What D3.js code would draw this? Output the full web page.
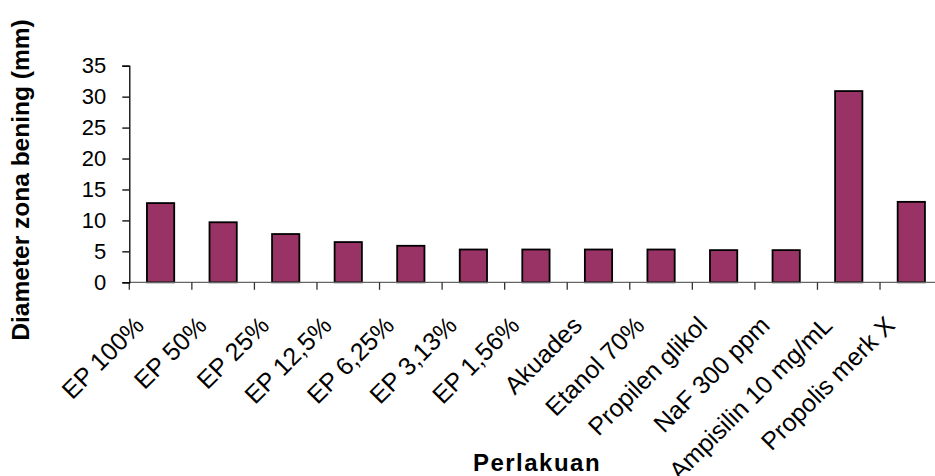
<!DOCTYPE html>
<html>
<head>
<meta charset="utf-8">
<script src="https://cdn.jsdelivr.net/npm/d3@7/dist/d3.min.js"></script>
<style>
  html, body { margin: 0; padding: 0; background: #fff; }
  svg { display: block; font-family: "Liberation Sans", Arial, sans-serif; }
</style>
</head>
<body>
<svg id="chart" width="935" height="476"></svg>
<script>
// Inhibition zone diameter per treatment
const categories = [
  "EP 100%", "EP 50%", "EP 25%", "EP 12,5%", "EP 6,25%", "EP 3,13%", "EP 1,56%",
  "Akuades", "Etanol 70%", "Propilen glikol", "NaF 300 ppm", "Ampisilin 10 mg/mL", "Propolis merk X"
];
const values = [12.8, 9.7, 7.8, 6.5, 5.9, 5.3, 5.3, 5.3, 5.3, 5.2, 5.2, 30.9, 13.0];
const yTicks = [0, 5, 10, 15, 20, 25, 30, 35];
const yTitle = "Diameter zona bening (mm)";
const xTitle = "Perlakuan";

const svg = d3.select("#chart");

const plotLeft = 129.3, plotTop = 65.7, plotBottom = 282.3;
const step = 62.56;
const pad = 0.564;

const x = d3.scaleBand()
  .domain(categories)
  .range([plotLeft, plotLeft + step * categories.length])
  .paddingInner(pad)
  .paddingOuter(pad / 2);

const y = d3.scaleLinear().domain([0, 35]).range([plotBottom, plotTop]);

// bars
svg.append("g")
  .selectAll("rect")
  .data(values)
  .join("rect")
  .attr("x", (d, i) => x(categories[i]))
  .attr("y", d => y(d))
  .attr("width", x.bandwidth())
  .attr("height", d => y(0) - y(d))
  .attr("fill", "#993366")
  .attr("stroke", "#000")
  .attr("stroke-width", 1.8);

// x axis: baseline plus category boundary ticks
const xAxis = svg.append("g");
xAxis.append("line")
  .attr("x1", plotLeft).attr("x2", plotLeft + step * categories.length)
  .attr("y1", y(0)).attr("y2", y(0))
  .attr("stroke", "#666").attr("stroke-width", 1.3);
xAxis.selectAll("line.tick")
  .data(d3.range(categories.length + 1))
  .join("line")
  .attr("class", "tick")
  .attr("x1", i => x.range()[0] + i * x.step())
  .attr("x2", i => x.range()[0] + i * x.step())
  .attr("y1", y(0)).attr("y2", y(0) + 7.5)
  .attr("stroke", "#333").attr("stroke-width", 1.3);

xAxis.selectAll("text")
  .data(categories)
  .join("text")
  .attr("transform", d => `translate(${x(d) + x.bandwidth() / 2 - 15},${327}) rotate(-45)`)
  .attr("text-anchor", "end")
  .attr("font-size", 25)
  .attr("fill", "#000")
  .text(d => d);

// y axis
const yAxis = svg.append("g")
  .attr("transform", `translate(${plotLeft},0)`)
  .call(d3.axisLeft(y).tickValues(yTicks).tickSize(7).tickPadding(16).tickSizeOuter(7));
yAxis.select(".domain").attr("stroke", "#000").attr("stroke-width", 1.3);
yAxis.selectAll(".tick line").attr("stroke", "#000").attr("stroke-width", 1.3);
yAxis.selectAll(".tick text")
  .attr("font-size", 22)
  .attr("font-family", "Liberation Sans, Arial, sans-serif")
  .attr("fill", "#000");

// axis titles
svg.append("text")
  .attr("transform", `translate(29,180) rotate(-90)`)
  .attr("text-anchor", "middle")
  .attr("font-size", 24.5)
  .attr("font-weight", "bold")
  .text(yTitle);

svg.append("text")
  .attr("x", 537)
  .attr("y", 471)
  .attr("text-anchor", "middle")
  .attr("font-size", 24)
  .attr("font-weight", "bold")
  .attr("letter-spacing", 1.5)
  .text(xTitle);
</script>
</body>
</html>
